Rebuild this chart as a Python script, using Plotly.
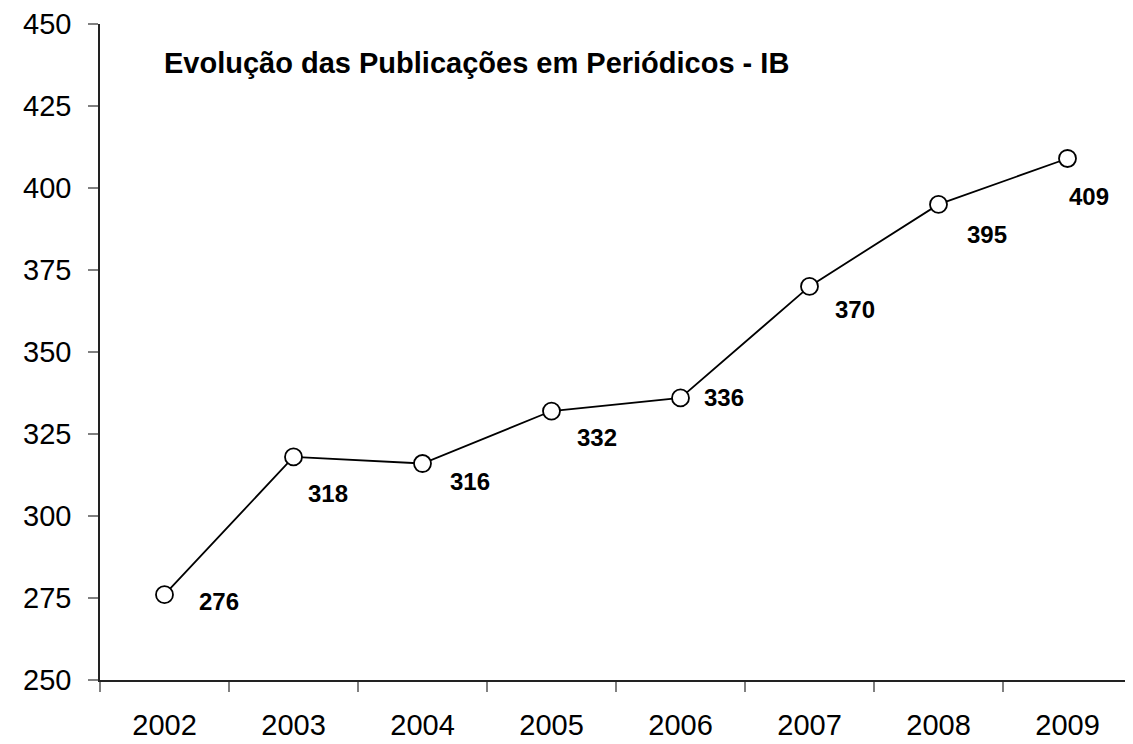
import plotly.graph_objects as go

years = ["2002", "2003", "2004", "2005", "2006", "2007", "2008", "2009"]
publications = [276, 318, 316, 332, 336, 370, 395, 409]
y_ticks = [250, 275, 300, 325, 350, 375, 400, 425, 450]
title_text = "Evolução das Publicações em Periódicos - IB"

# label pixel offsets (style only)
label_dx = [54, 34, 47, 45, 43, 45, 48, 21]
label_dy = [-7, -37, -18, -26, 0, -23, -30, -38]

FONT = "Liberation Sans, Arial, sans-serif"

fig = go.Figure()
fig.add_trace(go.Scatter(
    x=years, y=publications, mode="lines+markers",
    line=dict(color="black", width=1.8),
    marker=dict(symbol="circle", size=17, color="white",
                line=dict(color="black", width=1.8)),
    showlegend=False, hoverinfo="x+y",
))

for i, v in enumerate(publications):
    fig.add_annotation(
        x=i, y=v, xref="x", yref="y", text=f"<b>{v}</b>", showarrow=False,
        xshift=label_dx[i], yshift=label_dy[i],
        font=dict(family=FONT, size=24, color="black"),
    )

fig.add_annotation(
    x=0.3648, y=0.9405, xref="paper", yref="paper",
    text=f"<b>{title_text}</b>", showarrow=False,
    xanchor="center", yanchor="middle",
    font=dict(family=FONT, size=29, color="black"),
)

fig.update_layout(
    width=1125, height=736,
    margin=dict(l=92, r=1, t=16, b=64),
    paper_bgcolor="white", plot_bgcolor="white",
    font=dict(family=FONT, size=29, color="black"),
)
fig.update_xaxes(
    type="category", range=[-0.5, 7.5], tickson="boundaries",
    ticks="outside", ticklen=10, tickcolor="#808080", tickwidth=1.5,
    showline=True, linecolor="#222222", linewidth=1.5,
    showgrid=False, zeroline=False,
    tickfont=dict(size=29), ticklabelstandoff=18,
)
fig.update_yaxes(
    range=[250, 450], tickvals=y_ticks,
    ticks="outside", ticklen=10, tickcolor="#808080", tickwidth=1.5,
    showline=True, linecolor="#222222", linewidth=1.5,
    showgrid=False, zeroline=False,
    tickfont=dict(size=29), ticklabelstandoff=11,
)

fig.write_html("out.html")
